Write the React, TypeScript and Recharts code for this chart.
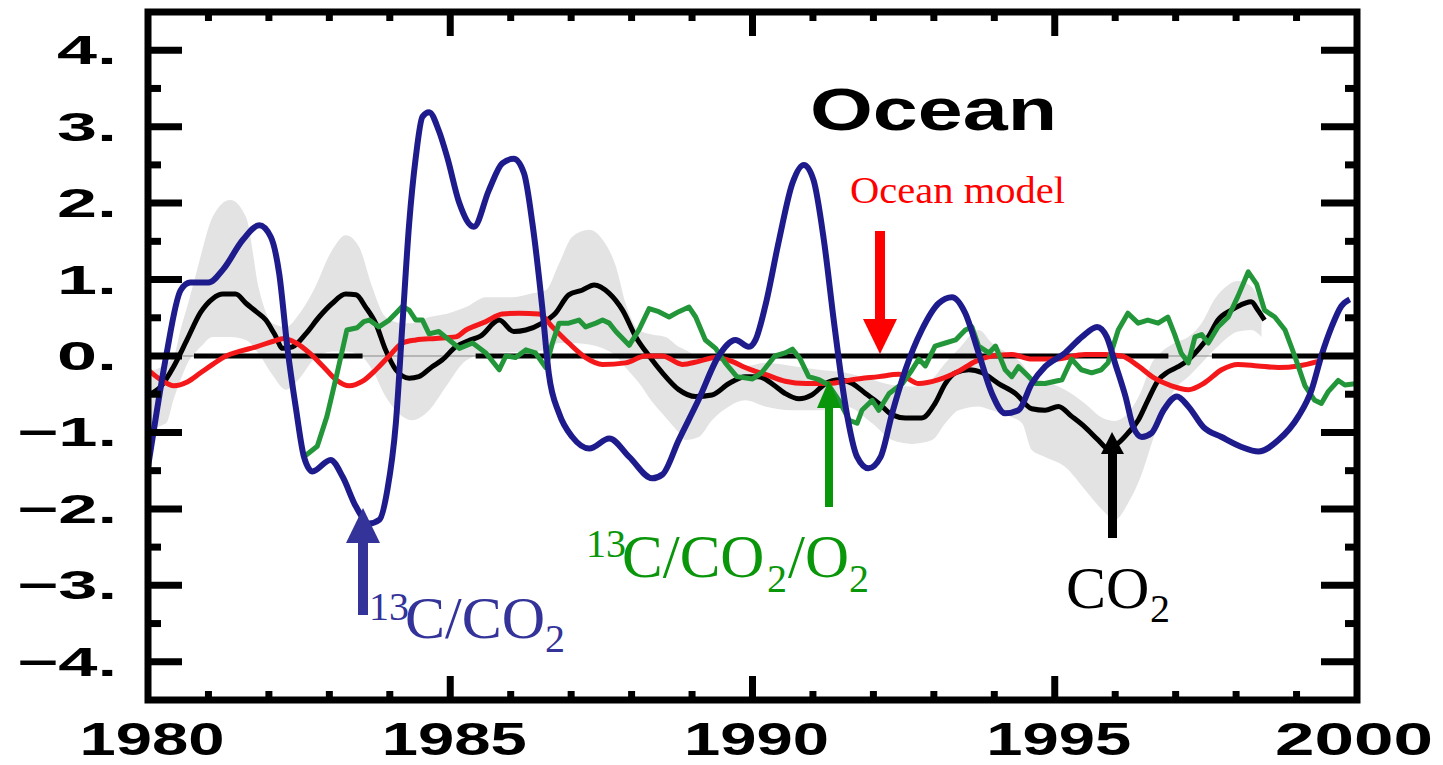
import React from 'react';
import { ComposedChart, Line, Area, XAxis, YAxis } from 'recharts';

// ---- data (year, value) ----
const blueSeries: [number, number][] = [
  [1980.0,-1.45],[1980.15,-0.7],[1980.3,0.0],[1980.54,0.86],[1980.7,0.96],[1981.0,0.96],[1981.24,1.13],[1981.57,1.52],[1981.84,1.71],[1982.03,1.56],[1982.17,1.08],[1982.31,0.08],[1982.45,-0.7],[1982.58,-1.32],[1982.72,-1.51],[1983.02,-1.36],[1983.22,-1.58],[1983.44,-1.97],[1983.66,-2.19],[1983.83,-2.14],[1983.96,-1.75],[1984.10,-0.88],[1984.21,0.43],[1984.32,1.73],[1984.43,2.6],[1984.54,3.13],[1984.65,3.19],[1984.81,2.95],[1984.95,2.6],[1985.15,2.0],[1985.39,1.69],[1985.64,2.17],[1985.86,2.52],[1986.05,2.58],[1986.22,2.39],[1986.36,1.73],[1986.52,0.65],[1986.63,-0.23],[1986.80,-0.75],[1987.02,-1.06],[1987.30,-1.21],[1987.63,-1.08],[1987.96,-1.32],[1988.34,-1.6],[1988.51,-1.55],[1988.78,-1.1],[1989.11,-0.57],[1989.44,0.0],[1989.72,0.21],[1989.94,0.12],[1990.05,0.21],[1990.21,0.65],[1990.44,1.52],[1990.66,2.26],[1990.85,2.5],[1991.01,2.30],[1991.18,1.52],[1991.35,0.43],[1991.54,-0.66],[1991.73,-1.32],[1991.92,-1.47],[1992.12,-1.32],[1992.31,-0.75],[1992.53,-0.18],[1992.80,0.34],[1993.08,0.69],[1993.30,0.77],[1993.52,0.56],[1993.74,0.04],[1993.96,-0.49],[1994.18,-0.75],[1994.40,-0.71],[1994.62,-0.36],[1994.84,-0.14],[1995.17,0.04],[1995.45,0.25],[1995.70,0.38],[1995.86,0.25],[1996.00,-0.1],[1996.17,-0.53],[1996.30,-0.93],[1996.44,-1.06],[1996.60,-1.01],[1996.80,-0.71],[1997.02,-0.53],[1997.21,-0.66],[1997.46,-0.93],[1997.76,-1.06],[1998.09,-1.19],[1998.37,-1.25],[1998.70,-1.1],[1999.03,-0.79],[1999.25,-0.44],[1999.41,0.0],[1999.58,0.38],[1999.74,0.65],[1999.88,0.74]
];

const co2Series: [number, number][] = [
  [1980.0,-0.51],[1980.21,-0.40],[1980.43,-0.13],[1980.65,0.22],[1980.87,0.57],[1981.07,0.75],[1981.24,0.81],[1981.45,0.81],[1981.62,0.69],[1981.79,0.58],[1981.95,0.47],[1982.09,0.29],[1982.23,0.10],[1982.39,0.12],[1982.61,0.29],[1982.83,0.51],[1983.05,0.69],[1983.27,0.81],[1983.44,0.80],[1983.60,0.64],[1983.77,0.42],[1983.93,0.08],[1984.10,-0.18],[1984.32,-0.29],[1984.48,-0.27],[1984.70,-0.14],[1984.87,-0.05],[1985.09,0.12],[1985.3,0.2],[1985.5,0.26],[1985.81,0.47],[1986.05,0.32],[1986.25,0.34],[1986.52,0.43],[1986.74,0.56],[1986.96,0.80],[1987.18,0.86],[1987.38,0.93],[1987.63,0.82],[1987.85,0.6],[1988.07,0.25],[1988.29,0.0],[1988.51,-0.22],[1988.78,-0.44],[1989.06,-0.53],[1989.33,-0.51],[1989.61,-0.36],[1989.88,-0.27],[1990.10,-0.27],[1990.32,-0.36],[1990.54,-0.49],[1990.77,-0.56],[1990.98,-0.51],[1991.21,-0.36],[1991.43,-0.31],[1991.65,-0.36],[1991.87,-0.49],[1992.09,-0.62],[1992.31,-0.77],[1992.53,-0.81],[1992.80,-0.81],[1993.02,-0.62],[1993.19,-0.36],[1993.36,-0.22],[1993.58,-0.18],[1993.80,-0.22],[1994.07,-0.36],[1994.35,-0.49],[1994.62,-0.69],[1994.84,-0.71],[1995.06,-0.66],[1995.28,-0.79],[1995.50,-0.93],[1995.72,-1.1],[1995.88,-1.21],[1996.05,-1.14],[1996.21,-1.01],[1996.38,-0.84],[1996.54,-0.58],[1996.71,-0.32],[1996.87,-0.21],[1997.04,-0.14],[1997.21,-0.05],[1997.37,0.08],[1997.54,0.25],[1997.70,0.47],[1997.92,0.6],[1998.14,0.69],[1998.25,0.71],[1998.36,0.6],[1998.47,0.47]
];

const oceanModelSeries: [number, number][] = [
  [1980.0,-0.18],[1980.21,-0.31],[1980.43,-0.39],[1980.65,-0.34],[1980.87,-0.22],[1981.07,-0.11],[1981.29,0.0],[1981.51,0.06],[1981.79,0.12],[1982.06,0.19],[1982.25,0.23],[1982.45,0.17],[1982.67,0.04],[1982.89,-0.13],[1983.11,-0.31],[1983.33,-0.39],[1983.55,-0.33],[1983.77,-0.18],[1983.99,0.0],[1984.21,0.17],[1984.43,0.21],[1984.76,0.23],[1985.09,0.25],[1985.26,0.34],[1985.59,0.45],[1985.86,0.55],[1986.14,0.56],[1986.47,0.55],[1986.69,0.38],[1986.96,0.17],[1987.24,-0.02],[1987.52,-0.11],[1987.90,-0.09],[1988.23,0.0],[1988.51,0.0],[1988.84,-0.11],[1989.11,-0.07],[1989.39,-0.02],[1989.66,-0.07],[1989.88,-0.15],[1990.05,-0.2],[1990.21,-0.24],[1990.54,-0.33],[1990.88,-0.36],[1991.26,-0.36],[1991.65,-0.31],[1992.09,-0.27],[1992.42,-0.24],[1992.75,-0.36],[1993.08,-0.31],[1993.41,-0.20],[1993.69,-0.07],[1993.96,0.0],[1994.29,0.02],[1994.62,-0.04],[1995.01,-0.04],[1995.50,0.02],[1995.83,0.02],[1996.11,0.0],[1996.38,-0.13],[1996.65,-0.29],[1996.93,-0.39],[1997.21,-0.44],[1997.48,-0.35],[1997.76,-0.18],[1998.03,-0.11],[1998.36,-0.13],[1998.70,-0.15],[1999.03,-0.13],[1999.36,-0.07]
];

const o2Series: [number, number][] = [
  [1982.56,-1.33],[1982.80,-1.18],[1982.96,-0.79],[1983.13,-0.22],[1983.29,0.34],[1983.46,0.37],[1983.57,0.45],[1983.66,0.47],[1983.82,0.38],[1983.99,0.47],[1984.10,0.56],[1984.21,0.65],[1984.32,0.60],[1984.43,0.47],[1984.54,0.47],[1984.65,0.29],[1984.81,0.32],[1984.95,0.23],[1985.09,0.14],[1985.15,0.1],[1985.37,0.17],[1985.59,0.04],[1985.81,-0.18],[1985.92,0.0],[1986.08,-0.02],[1986.25,0.08],[1986.41,0.04],[1986.58,-0.15],[1986.69,0.17],[1986.80,0.43],[1986.96,0.43],[1987.13,0.47],[1987.24,0.38],[1987.41,0.43],[1987.52,0.47],[1987.63,0.43],[1987.74,0.32],[1987.96,0.14],[1988.12,0.34],[1988.29,0.62],[1988.45,0.58],[1988.62,0.51],[1988.78,0.58],[1988.95,0.64],[1989.06,0.51],[1989.22,0.21],[1989.39,0.10],[1989.55,-0.09],[1989.74,-0.27],[1990.0,-0.3],[1990.15,-0.22],[1990.37,0.0],[1990.54,0.04],[1990.66,0.09],[1990.79,-0.04],[1990.93,-0.27],[1991.10,-0.31],[1991.26,-0.38],[1991.43,-0.58],[1991.60,-0.84],[1991.73,-0.88],[1991.81,-0.71],[1991.98,-0.58],[1992.09,-0.71],[1992.26,-0.49],[1992.48,-0.36],[1992.64,-0.18],[1992.75,-0.04],[1992.86,-0.13],[1993.02,0.13],[1993.19,0.17],[1993.36,0.21],[1993.52,0.34],[1993.63,0.38],[1993.74,0.13],[1993.91,0.04],[1994.02,0.13],[1994.18,-0.18],[1994.29,-0.27],[1994.40,-0.14],[1994.57,-0.27],[1994.68,-0.36],[1994.84,-0.36],[1995.12,-0.31],[1995.28,-0.04],[1995.44,-0.18],[1995.61,-0.22],[1995.77,-0.18],[1995.88,-0.09],[1996.05,0.34],[1996.21,0.56],[1996.38,0.43],[1996.54,0.47],[1996.71,0.43],[1996.87,0.51],[1996.98,0.29],[1997.09,0.04],[1997.21,-0.09],[1997.32,0.25],[1997.43,0.28],[1997.54,0.17],[1997.70,0.38],[1997.87,0.51],[1998.03,0.78],[1998.20,1.1],[1998.34,0.94],[1998.47,0.6],[1998.64,0.51],[1998.81,0.34],[1998.97,0.0],[1999.14,-0.39],[1999.30,-0.58],[1999.41,-0.62],[1999.52,-0.47],[1999.69,-0.32],[1999.80,-0.38],[2000.0,-0.36]
];

// uncertainty band of the CO2 inversion: [year, low, high]
const co2Band: [number, number, number][] = [
  [1980.0,-0.95,-0.2],[1980.3,-0.88,-0.1],[1980.43,-0.55,0.0],[1980.54,-0.31,0.35],[1980.65,-0.1,0.65],[1980.82,0.08,1.15],[1980.87,0.12,1.30],[1981.07,0.25,1.82],[1981.36,0.25,2.04],[1981.62,0.21,1.82],[1981.84,0.02,0.86],[1982.06,-0.25,0.43],[1982.28,-0.44,0.38],[1982.5,-0.3,0.55],[1982.74,-0.05,0.86],[1983.05,0.06,1.39],[1983.27,0.06,1.58],[1983.49,0.02,1.43],[1983.71,-0.18,0.90],[1983.93,-0.53,0.51],[1984.21,-0.79,0.43],[1984.37,-0.84,0.43],[1984.65,-0.71,0.51],[1984.93,-0.4,0.55],[1985.26,-0.06,0.64],[1985.59,0.03,0.77],[1986.03,0.05,0.77],[1986.36,0.06,0.82],[1986.58,0.08,0.86],[1986.80,0.17,1.21],[1987.02,0.17,1.56],[1987.30,0.15,1.65],[1987.52,0.1,1.52],[1987.74,0.0,1.17],[1987.90,-0.15,0.69],[1988.12,-0.35,0.34],[1988.34,-0.6,0.28],[1988.56,-0.8,0.25],[1988.78,-1.0,0.12],[1988.89,-1.1,0.08],[1989.11,-1.06,0.0],[1989.33,-0.84,0.0],[1989.61,-0.66,-0.05],[1989.88,-0.58,-0.13],[1990.21,-0.66,-0.09],[1990.66,-0.71,-0.13],[1991.10,-0.71,-0.18],[1991.54,-0.66,-0.22],[1991.98,-0.88,-0.31],[1992.31,-1.1,-0.38],[1992.64,-1.15,-0.40],[1992.97,-1.1,-0.3],[1993.19,-0.88,-0.09],[1993.41,-0.71,0.09],[1993.74,-0.66,0.34],[1993.96,-0.71,0.17],[1994.29,-0.8,0.0],[1994.46,-0.88,-0.1],[1994.62,-1.23,-0.27],[1994.84,-1.32,-0.33],[1995.17,-1.45,-0.44],[1995.50,-1.75,-0.62],[1995.77,-2.0,-0.8],[1996.00,-2.14,-0.85],[1996.21,-1.93,-0.75],[1996.44,-1.54,-0.44],[1996.60,-1.15,-0.1],[1996.76,-0.79,0.05],[1996.98,-0.44,0.17],[1997.21,-0.27,0.25],[1997.43,-0.09,0.43],[1997.65,0.09,0.75],[1997.87,0.25,0.93],[1998.03,0.32,0.98],[1998.25,0.34,0.91],[1998.42,0.25,0.69]
];

// thick zero-line pieces (visible segments in the reference)
const zeroSegments: [number, number][] = [[1980.76, 1983.55], [1985.42, 1996.88], [1997.6, 2000]];

const xTicks = [1980,1981,1982,1983,1984,1985,1986,1987,1988,1989,1990,1991,1992,1993,1994,1995,1996,1997,1998,1999,2000];
const yTicks = [-4,-3.5,-3,-2.5,-2,-1.5,-1,-0.5,0,0.5,1,1.5,2,2.5,3,3.5,4];

// ---- derived tables ----
const pts = (s: [number, number][]) => s.map(([x, y]) => ({ x, y }));
const blueData = pts(blueSeries);
const co2Data = pts(co2Series);
const oceanData = pts(oceanModelSeries);
const o2Data = pts(o2Series);
const bandData = co2Band.map(([x, lo, hi]) => ({ x, range: [lo, hi] }));
const zeroThick: { x: number; y: number | null }[] = [];
zeroSegments.forEach(([a, b], i) => {
  if (i > 0) zeroThick.push({ x: a - 0.001, y: null });
  zeroThick.push({ x: a, y: 0 }, { x: b, y: 0 });
});
const zeroThin = [{ x: 1980, y: 0 }, { x: 2000, y: 0 }];

const SANS = "'Liberation Sans', Arial, Helvetica, sans-serif";
const SERIF = "'Liberation Serif', 'Times New Roman', serif";

const BottomTick = (p: any) => {
  const v = p.payload.value;
  const x = p.x, y = p.y;
  const major = v % 5 === 0;
  const edge = v === 1980 || v === 2000;
  return (
    <g>
      {!edge && <line x1={x} x2={x} y1={y} y2={y - (major ? 24 : 9)} stroke="#000" strokeWidth={7} />}
      {major && (
        <text x={x + (v === 2000 ? -3 : 4)} y={y + 55} textAnchor="middle" fontFamily={SANS} fontWeight="bold"
          fontSize={46} fill="#000" textLength={v === 2000 ? 158 : 145} lengthAdjust="spacingAndGlyphs">{v}</text>
      )}
    </g>
  );
};
const TopTick = (p: any) => {
  const v = p.payload.value;
  if (v === 1980 || v === 2000) return <g />;
  const major = v % 5 === 0;
  return <line x1={p.x} x2={p.x} y1={p.y} y2={p.y + (major ? 24 : 9)} stroke="#000" strokeWidth={7} />;
};
const LeftTick = (p: any) => {
  const v = p.payload.value;
  const major = Number.isInteger(v);
  const label = v < 0 ? `\u2212${-v}.` : `${v}.`;
  return (
    <g>
      <line x1={p.x} x2={p.x + (major ? 34 : 13)} y1={p.y} y2={p.y} stroke="#000" strokeWidth={7} />
      {major && (
        <text x={p.x - 31} y={p.y + 14} textAnchor="end" fontFamily={SANS} fontWeight="bold" fontSize={40}
          fill="#000" textLength={v < 0 ? 100 : 60} lengthAdjust="spacingAndGlyphs">{label}</text>
      )}
    </g>
  );
};
const RightTick = (p: any) => {
  const v = p.payload.value;
  const major = Number.isInteger(v);
  return <line x1={p.x} x2={p.x - (major ? 36 : 12)} y1={p.y} y2={p.y} stroke="#000" strokeWidth={7} />;
};

export default function App() {
  return (
    <div style={{ position: 'absolute', left: 0, top: 0, width: 1443, height: 765, background: '#fff' }}>
      <ComposedChart width={1443} height={765} margin={{ top: 11, right: 85, bottom: 64, left: 147 }}>
        <XAxis xAxisId={0} dataKey="x" type="number" domain={[1980, 2000]} ticks={xTicks} interval={0}
          allowDataOverflow height={1} tickSize={0} tickMargin={0} axisLine={false} tickLine={false} tick={<BottomTick />} />
        <XAxis xAxisId="top" orientation="top" dataKey="x" type="number" domain={[1980, 2000]} ticks={xTicks} interval={0}
          allowDataOverflow height={1} tickSize={0} tickMargin={0} axisLine={false} tickLine={false} tick={<TopTick />} />
        <YAxis yAxisId={0} type="number" domain={[-4.5, 4.5]} ticks={yTicks} interval={0} allowDataOverflow
          width={1} tickSize={0} tickMargin={0} axisLine={false} tickLine={false} tick={<LeftTick />} />
        <YAxis yAxisId="right" orientation="right" type="number" domain={[-4.5, 4.5]} ticks={yTicks} interval={0} allowDataOverflow
          width={1} tickSize={0} tickMargin={0} axisLine={false} tickLine={false} tick={<RightTick />} />

        <Area data={bandData} dataKey="range" type="monotone" fill="#e3e3e3" fillOpacity={1} stroke="none"
          isAnimationActive={false} activeDot={false} />
        <Line data={zeroThin} dataKey="y" type="linear" stroke="#8a8a8a" strokeWidth={1.2} dot={false} activeDot={false} isAnimationActive={false} />
        <Line data={zeroThick} dataKey="y" type="linear" stroke="#000" strokeWidth={5} dot={false} activeDot={false}
          connectNulls={false} isAnimationActive={false} />
        <Line data={co2Data} dataKey="y" type="monotone" stroke="#000" strokeWidth={5} dot={false} activeDot={false} isAnimationActive={false} />
        <Line data={oceanData} dataKey="y" type="monotone" stroke="#f5181a" strokeWidth={5} dot={false} activeDot={false} isAnimationActive={false} />
        <Line data={o2Data} dataKey="y" type="linear" stroke="#23963a" strokeWidth={5} strokeLinejoin="round" dot={false} activeDot={false} isAnimationActive={false} />
        <Line data={blueData} dataKey="y" type="monotone" stroke="#1e1c8c" strokeWidth={6} dot={false} activeDot={false} isAnimationActive={false} />
        <Line xAxisId="top" yAxisId="right" data={zeroThin} dataKey="y" stroke="none" dot={false} activeDot={false} isAnimationActive={false} />
      </ComposedChart>

      <svg width={1443} height={765} style={{ position: 'absolute', left: 0, top: 0, pointerEvents: 'none' }}>
        <rect x={148} y={12} width={1209} height={688} fill="none" stroke="#000" strokeWidth={7} />

        <text x={810} y={130} fontFamily={SANS} fontWeight="bold" fontSize={60} fill="#000" textLength={247} lengthAdjust="spacingAndGlyphs">Ocean</text>
        <text x={850} y={203} fontFamily={SERIF} fontSize={38} fill="#ff0000" textLength={215} lengthAdjust="spacingAndGlyphs">Ocean model</text>

        {/* red arrow */}
        <rect x={875} y={231} width={10} height={90} fill="#ff0000" />
        <polygon points="863,319 897,319 880,354" fill="#ff0000" />

        {/* blue arrow and label */}
        <rect x={358} y={540} width={10} height={75} fill="#333399" />
        <polygon points="346,543 380,543 363,508" fill="#333399" />
        <text fontFamily={SERIF} fill="#333399">
          <tspan x={369} y={620} fontSize={40}>13</tspan>
          <tspan x={405} y={638} fontSize={60}>C/CO</tspan>
          <tspan x={545} y={652} fontSize={40}>2</tspan>
        </text>

        {/* green arrow and label */}
        <rect x={825} y={405} width={8} height={102} fill="#0a960a" />
        <polygon points="817,408 841,408 829,380" fill="#0a960a" />
        <text fontFamily={SERIF} fill="#0a960a">
          <tspan x={586} y={557} fontSize={40}>13</tspan>
          <tspan x={622} y={577} fontSize={61}>C/CO</tspan>
          <tspan x={767} y={592} fontSize={40}>2</tspan>
          <tspan x={788} y={577} fontSize={61}>/O</tspan>
          <tspan x={849} y={592} fontSize={40}>2</tspan>
        </text>

        {/* black arrow and label */}
        <rect x={1108} y={450} width={9} height={88} fill="#000" />
        <polygon points="1101,454 1124,454 1112,432" fill="#000" />
        <text fontFamily={SERIF} fill="#000">
          <tspan x={1066} y={608} fontSize={60}>CO</tspan>
          <tspan x={1150} y={622} fontSize={40}>2</tspan>
        </text>
      </svg>
    </div>
  );
}
